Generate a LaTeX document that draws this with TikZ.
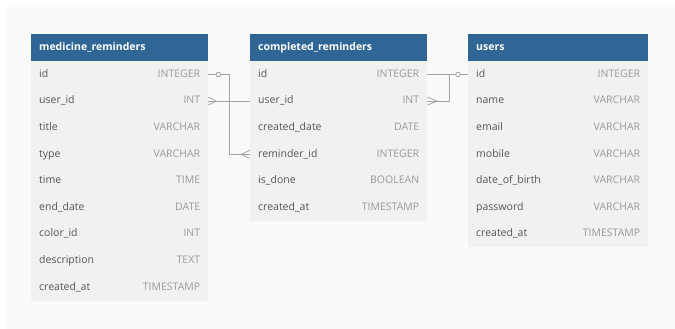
\documentclass[tikz,border=0pt]{standalone}
\usepackage{fontspec}
\setmainfont{Open Sans}
\usetikzlibrary{calc}
\definecolor{hdr}{HTML}{2F6696}
\definecolor{rowc}{HTML}{F1F1F1}
\definecolor{bgc}{HTML}{FAFAFA}
\definecolor{fld}{HTML}{555555}
\definecolor{typ}{HTML}{9A9A9A}
\definecolor{lnc}{HTML}{A3A3A3}
\pgfdeclarelayer{back}\pgfdeclarelayer{mid}
\pgfsetlayers{back,mid,main}
\tikzset{
 hdrbox/.style={fill=hdr, draw=none, inner sep=0, minimum height=27pt, anchor=north west},
 rowbox/.style={fill=rowc, draw=none, inner sep=0, minimum height=26.6pt, anchor=north west},
 hdrtxt/.style={text=white, font=\fontsize{10.5}{12}\selectfont\bfseries, inner sep=0, anchor=west, text height=8pt, text depth=2.5pt},
 fldtxt/.style={text=fld, font=\fontsize{10.5}{12}\selectfont, inner sep=0, anchor=west, text height=8pt, text depth=2.5pt},
 typtxt/.style={text=typ, font=\fontsize{10.5}{12}\selectfont, inner sep=0, anchor=east, text height=8pt, text depth=2.5pt},
 conn/.style={draw=lnc, line width=0.8pt},
}
\newcommand\mktable[5]{%
 \node[hdrbox, minimum width=#3pt] (#1-h) at (#2,34) {};
 \node[hdrtxt] (#1-ht) at ([xshift=8pt]#1-h.west) {#4};
 \foreach \fn/\ty [count=\i] in {#5} {
   \node[rowbox, minimum width=#3pt] (#1-\i) at (#2,{61+26.6*(\i-1)}) {};
   \node[fldtxt] (#1-\i-n) at ([xshift=8pt]#1-\i.west) {\fn};
   \node[typtxt] (#1-\i-t) at ([xshift=-8pt]#1-\i.east) {\ty};
 }%
}
\begin{document}
\begin{tikzpicture}[x=1pt,y=-1pt]
\useasboundingbox (0,0) rectangle (675,329);
\begin{pgfonlayer}{back}
\fill[white] (0,0) rectangle (675,329);
\fill[bgc] (7,7) rectangle (675,329);
\end{pgfonlayer}

\mktable{mr}{31}{177}{medicine\_reminders}{id/INTEGER, user\_id/INT, title/VARCHAR, type/VARCHAR, time/TIME, end\_date/DATE, color\_id/INT, description/TEXT, created\_at/TIMESTAMP}
\mktable{cr}{250}{177}{completed\_reminders}{id/INTEGER, user\_id/INT, created\_date/DATE, reminder\_id/INTEGER, is\_done/BOOLEAN, created\_at/TIMESTAMP}
\mktable{us}{468}{180}{users}{id/INTEGER, name/VARCHAR, email/VARCHAR, mobile/VARCHAR, date\_of\_birth/VARCHAR, password/VARCHAR, created\_at/TIMESTAMP}

\begin{pgfonlayer}{mid}
% medicine_reminders.id -- completed_reminders.reminder_id
\draw[conn] (mr-1.east) -- ++(21,0) |- (cr-4.west);
\draw[conn] ($(cr-4.west)+(-9,0)$) -- ++(9,-4) ($(cr-4.west)+(-9,0)$) -- ++(9,4);
% medicine_reminders.user_id -- users.id (passes behind completed_reminders)
\draw[conn] (mr-2.east) -- ++(130,0) |- (us-1.west);
\draw[conn] ($(mr-2.east)+(8,0)$) -- ++(-8,-4) ($(mr-2.east)+(8,0)$) -- ++(-8,4);
% completed_reminders.user_id -- users.id
\draw[conn] (cr-2.east) -- ++(22,0) |- (us-1.west);
\draw[conn] ($(cr-2.east)+(10,0)$) -- ++(-10,-4) ($(cr-2.east)+(10,0)$) -- ++(-10,4);
% one-side markers
\draw[conn, fill=bgc] ($(mr-1.east)+(10,0)$) circle (2.3pt);
\draw[conn, fill=bgc] ($(us-1.west)+(-10,0)$) circle (2.3pt);
\end{pgfonlayer}
\end{tikzpicture}
\end{document}
